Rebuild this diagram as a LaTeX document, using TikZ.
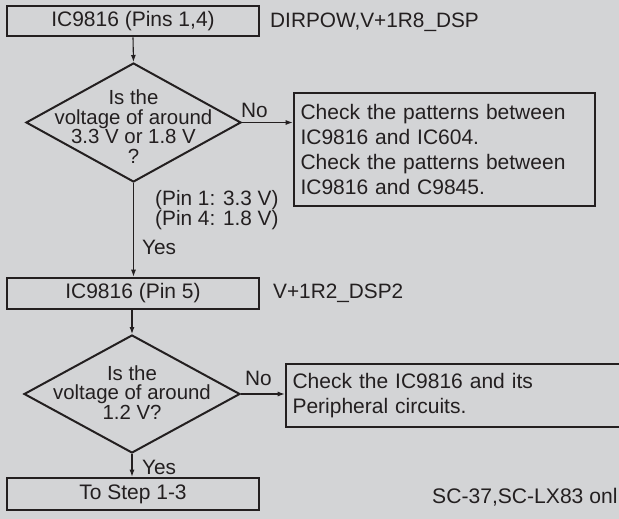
\documentclass[tikz,border=0pt]{standalone}
\usepackage{fontspec}
\setmainfont{Liberation Sans}
\usetikzlibrary{shapes.geometric,arrows.meta}
\definecolor{bg}{HTML}{D3D4D6}
\definecolor{ink}{HTML}{231F20}
\tikzset{
  stepbox/.style={draw=ink, line width=2.6pt, inner sep=0pt, text=ink, font=\fontsize{21}{25.3}\selectfont},
  decision/.style={draw=ink, diamond, line width=2pt, inner sep=0pt},
  dtext/.style={align=center, inner sep=0pt, text=ink, font=\fontsize{20.4}{19.5}\selectfont},
  lbl/.style={inner sep=0pt, anchor=west, text=ink, font=\fontsize{20.8}{20}\selectfont},
  flow/.style={draw=ink, line width=1.1pt, -{Latex[length=7pt,width=5pt]}}
}
\begin{document}
\begin{tikzpicture}[x=1pt,y=-1pt]
\clip (0,0) rectangle (619,519);
\fill[bg] (0,0) rectangle (619,519);
% boxes
\node[stepbox, minimum width=252, minimum height=30] (b1) at (133,21) {IC9816 (Pins 1,4)};
\node[lbl] (n1) at (270,22) {DIRPOW,V+1R8\_DSP};
\node[decision, minimum width=215, minimum height=119] (d1) at (133.5,122.5) {};
\node[dtext] (t1) at (133.5,126.5) {Is the\\voltage of around\\3.3 V or 1.8 V\\?};
\node[stepbox, minimum width=301, minimum height=113, text width=288, align=left] (b2) at (444.5,149.5) {Check the patterns between\\IC9816 and IC604.\\Check the patterns between\\IC9816 and C9845.};
\node[lbl, align=left] (pins) at (155,210) {(Pin 1: 3.3 V)\\(Pin 4: 1.8 V)};
\node[lbl] (y1) at (142,247) {Yes};
\node[lbl] (no1) at (241,110) {No};
\node[stepbox, minimum width=252, minimum height=31] (b3) at (133,293.5) {IC9816 (Pin 5)};
\node[lbl] (n3) at (273,293) {V+1R2\_DSP2};
\node[decision, minimum width=216, minimum height=118] (d2) at (132,394) {};
\node[dtext] (t2) at (132,392.5) {Is the\\voltage of around\\1.2 V?};
\node[stepbox, minimum width=339, minimum height=63, text width=326, align=left] (b4) at (455.5,395.5) {Check the IC9816 and its\\Peripheral circuits.};
\node[lbl] (no2) at (245,378) {No};
\node[lbl] (y2) at (142,467) {Yes};
\node[stepbox, minimum width=252, minimum height=32] (b5) at (133,494) {To Step 1-3};
\node[lbl, font=\fontsize{21.1}{22}\selectfont] (sc) at (432,497) {SC-37,SC-LX83 onl};
% connectors
\draw[flow] (b1.south) -- (d1.north);
\draw[flow] (d1.east) -- (b2.west |- d1.east);
\draw[flow] (d1.south) -- (d1.south |- b3.north);
\draw[flow] (b3.south -| d2.north) -- (d2.north);
\draw[flow] (d2.east) -- (b4.west |- d2.east);
\draw[flow] (d2.south) -- (d2.south |- b5.north);
\end{tikzpicture}
\end{document}
